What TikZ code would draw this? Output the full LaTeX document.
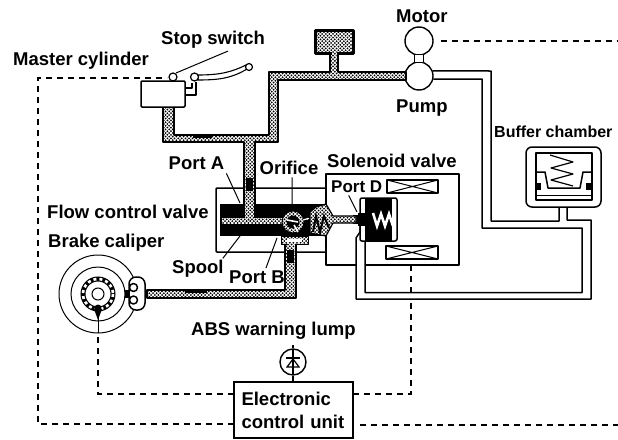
\documentclass[tikz,border=0pt]{standalone}
\usepackage{fontspec}
\setmainfont{Liberation Sans}
\usetikzlibrary{shapes, arrows.meta, positioning, calc, patterns}
\pgfdeclarepatternformonly{oilstipple}{\pgfqpoint{-1pt}{-1pt}}{\pgfqpoint{3pt}{3pt}}{\pgfqpoint{3.6pt}{3.6pt}}{
  \pgfpathcircle{\pgfqpoint{0pt}{0pt}}{1pt}
  \pgfpathcircle{\pgfqpoint{1.8pt}{1.8pt}}{1pt}
  \pgfusepath{fill}
}

\begin{document}
\begin{tikzpicture}[
  x=1pt, y=-1pt,
  lbl/.style={anchor=base west, inner sep=0pt, font=\fontsize{18.5}{23}\selectfont\bfseries},
  pipe/.style={preaction={fill=white}, pattern=oilstipple, draw=black, line width=2pt, line join=round},
  bore/.style={preaction={fill=white}, pattern=oilstipple},
  oilline/.style={draw=black, line width=1.5pt, line join=round},
  sigline/.style={draw=black, line width=1.6pt, dash pattern=on 6pt off 5pt},
  leader/.style={draw=black, line width=1pt},
  hubnode/.style={circle, draw=black, line width=1.4pt, fill=white, inner sep=0pt}
]
  \useasboundingbox (0,0) rectangle (618,439);

  \node[hubnode, minimum size=28pt] (motor) at (419,41) {};
  \node[hubnode, minimum size=28pt] (pump) at (419,76) {};
  \draw[oilline, line width=1.2pt, fill=white] (414.5,54.5) rectangle (423.5,62.5);
  \node[draw=black, line width=1.1pt, fill=white, minimum width=119pt, minimum height=56pt, inner sep=0pt, text width=104pt, align=left, font=\fontsize{18.5}{23}\selectfont\bfseries] (ecu) at (293.5,410) {Electronic\\control unit};
  \node[hubnode, minimum size=26pt] (lamp) at (293,362) {};

  \coordinate (ecuUpL) at (234,394);
  \coordinate (ecuLoL) at (234,424);
  \coordinate (ecuUpR) at (353,394);
  \coordinate (ecuLoR) at (353,425);
  \coordinate (switchEnd) at (167,78);
  \coordinate (discEnd) at (98,332);
  \coordinate (solEnd) at (411,301);
  \coordinate (rightA) at (618,41);
  \coordinate (rightB) at (618,425);

  \draw[sigline] (ecuLoL) -- (38,424) -- (38,78) -- (switchEnd);
  \draw[sigline] (ecuUpL) -- (98,394) -- (discEnd);
  \draw[sigline] (ecuUpR) -- (411,394) -- (solEnd);
  \draw[sigline] (411,293) -- (411,262);
  \draw[sigline] (motor.east) ++(7,0) -- (rightA);
  \draw[sigline] (ecuLoR) ++(7,0) -- (rightB);

  \draw[oilline] (pump.20) -- (491,71) -- (491,221) -- (559,221) -- (559,200);
  \draw[oilline] (pump.-12) -- (482,79) -- (482,228) -- (582,228) -- (582,292.5) -- (365,292.5) -- (365,241);
  \draw[oilline] (567,200) -- (567,220) -- (591,220) -- (591,299) -- (356,299) -- (356,238) -- (360,232) -- (360,224);

  \draw[oilline, rounded corners=1pt] (326,188) -- (216,188) -- (216,252) -- (326,252);
  \draw[oilline] (326,204) -- (326,174) -- (459,174) -- (459,265) -- (365,265);
  \draw[oilline] (326,236) -- (326,265) -- (356,265);

  \fill[black] (220,204) rectangle (326,236);
  \draw[pipe] (163,107) -- (163,142) -- (244,142) -- (244,217) -- (255,217) -- (255,142) -- (278,142) -- (278,80) -- (406,80) -- (406,72) -- (338,72) -- (338,53) -- (330,53) -- (330,72) -- (269,72) -- (269,135) -- (174,135) -- (174,107) -- cycle;
  \fill[bore] (222,217.5) rectangle (284,223.5);
  \fill[bore] (245,205) rectangle (254,220);
  \fill[black] (246,178) rectangle (253,191);
  \fill[black] (193,135) rectangle (212,137.5);
  \draw[pipe, line width=3pt] (315,30) rectangle (353,53);
  \fill[bore] (331.5,50) rectangle (336.5,60);

  \draw[pipe] (285,240) -- (285,290) -- (147,290) -- (147,298) -- (296,298) -- (296,240);
  \fill[black] (287,248) rectangle (294,263);
  \fill[black] (185,291) rectangle (207,293);
  \draw[pipe, line width=1pt] (281,236) rectangle (308,244);
  \fill[white] (287,238.5) rectangle (302,241.5);
  \fill[bore] (286.5,243) rectangle (294.5,250);

  \draw[pipe, line width=1pt] (293,222) circle (11);
  \fill[black] (293,222) circle (6.5);
  \draw[white, line width=1.6pt] (287,220) -- (298,222) (294,225) -- (298,232);
  \draw[white, line width=1.2pt, -{Latex[length=3pt]}] (303,220) -- (310,218);

  \fill[black] (353,215) rectangle (367,224);
  \draw[pipe, line width=1.2pt] (326,204) -- (333,216) -- (356,216) -- (356,223) -- (333,223) -- (326,236) -- (310,233) -- (310,212) -- (316,207) -- cycle;
  \draw[black, line width=2pt] (313,232) -- (316,216) -- (320,232) -- (324,216) -- (329,228);

  \draw[oilline, fill=white, rounded corners=2pt] (360,198) rectangle (397,241);
  \fill[black] (365,198) rectangle (392,241);
  \fill[black] (358,213) rectangle (366,226);
  \draw[white, line width=2.6pt] (373,213) -- (377,226) -- (381,214) -- (385,226) -- (389,214) -- (393,226);

  \draw[oilline, fill=white] (387,180) rectangle (438,193);
  \draw[oilline, line width=1pt] (387,180) -- (438,193) (387,193) -- (438,180);
  \draw[oilline, fill=white] (386,246) rectangle (438,259);
  \draw[oilline, line width=1pt] (386,246) -- (438,259) (386,259) -- (438,246);

  \draw[oilline, fill=white, rounded corners=6pt] (526,147) rectangle (601,207);
  \draw[oilline] (536,153) rectangle (592,200);
  \draw[oilline] (537,172) -- (545,172) -- (548,188) -- (580,188) -- (583,172) -- (591,172);
  \draw[oilline, line width=1.2pt] (550,155) -- (573,162) -- (551,168) -- (573,174) -- (551,180) -- (573,186);
  \fill[black] (537,183) rectangle (541,190);
  \fill[black] (586,183) rectangle (591,190);
  \draw[oilline, line width=1pt] (537,195) -- (591,195);

  \draw[black, line width=1pt] (98,294) circle (39);
  \draw[black, line width=1pt] (98,294) circle (27);
  \draw[black, line width=5pt] (98,294) circle (15);
  \draw[white, line width=2.6pt, dash pattern=on 3pt off 3pt] (98,294) circle (15);
  \draw[black, line width=1pt] (98,294) circle (6);
  \fill[black] (98,308) circle (3.5);
  \fill[black] (94,309) -- (102,309) -- (98,320) -- cycle;
  \draw[black, line width=1pt] (98,318) -- (98,333);
  \fill[black] (125,290) rectangle (129,298);
  \draw[oilline, fill=white, rounded corners=7pt] (129,277) rectangle (145,310);
  \draw[oilline, fill=white] (133.5,287.5) circle (4);
  \draw[oilline, fill=white] (133.5,300) circle (4);

  \draw[oilline, fill=white, rounded corners=1pt] (141,81) rectangle (185,107);
  \draw[oilline, line width=1.2pt] (185,88) -- (192,88) -- (192,83);
  \draw[oilline, line width=1.2pt] (185,95) -- (196,95) -- (196,82);
  \draw[black, line width=1.1pt, fill=white] (198,75) .. controls (220,75) and (232,72) .. (246,65) -- (247,69) .. controls (232,78) and (220,80) .. (198,80) -- cycle;
  \draw[oilline, fill=white, line width=1.2pt] (173,77) circle (4);
  \draw[oilline, fill=white, line width=1.2pt] (194.5,77) circle (4);
  \draw[oilline, fill=white, line width=1.2pt] (249,67) circle (3.5);

  \draw[black, line width=1.2pt] (293,345) -- (lamp.north) (lamp.south) -- (ecu.north -| lamp.south);
  \draw[black, line width=1.2pt] (293,349) -- (293,375) (286,358) -- (300,358);
  \draw[black, line width=1.2pt] (293,359) -- (287,367) -- (299,367) -- cycle;

  \node[lbl] (lblStop) at (161,44) {Stop switch};
  \node[lbl] (lblMaster) at (13,65.5) {Master cylinder};
  \node[lbl] (lblMotor) at (396,23) {Motor};
  \node[lbl] (lblPump) at (396,112) {Pump};
  \node[lbl, font=\fontsize{16}{20}\selectfont\bfseries] (lblBuffer) at (494,137) {Buffer chamber};
  \node[lbl] (lblPortA) at (168.5,169) {Port A};
  \node[lbl] (lblOrifice) at (259.5,174) {Orifice};
  \node[lbl] (lblSolenoid) at (327,167) {Solenoid valve};
  \node[lbl, font=\fontsize{17}{20}\selectfont\bfseries] (lblPortD) at (331,192) {Port D};
  \node[lbl] (lblFlow) at (47,218) {Flow control valve};
  \node[lbl] (lblBrake) at (48,247) {Brake caliper};
  \node[lbl] (lblSpool) at (172,273) {Spool};
  \node[lbl] (lblPortB) at (229,283) {Port B};
  \node[lbl] (lblAbs) at (191,335) {ABS warning lump};

  \coordinate (stopTip) at (176,73);
  \coordinate (portATip) at (240,203);
  \coordinate (orificeTip) at (292,208);
  \coordinate (portDTip) at (357,212);
  \coordinate (spoolTip) at (240,236);
  \coordinate (portBTip) at (277,238);

  \draw[leader] ([xshift=15pt,yshift=-3pt]lblStop.south) -- (stopTip);
  \draw[leader] ([xshift=2pt,yshift=-4pt]lblPortA.south east) -- (portATip);
  \draw[leader] ([xshift=3pt,yshift=-3pt]lblOrifice.south) -- (orificeTip);
  \draw[leader] ([xshift=-8pt,yshift=-3pt]lblPortD.south) -- (portDTip);
  \draw[leader] ([xshift=-1pt,yshift=1pt]lblSpool.north east) -- (spoolTip);
  \draw[leader] ([xshift=9pt,yshift=2pt]lblPortB.north) -- (portBTip);
\end{tikzpicture}
\end{document}
